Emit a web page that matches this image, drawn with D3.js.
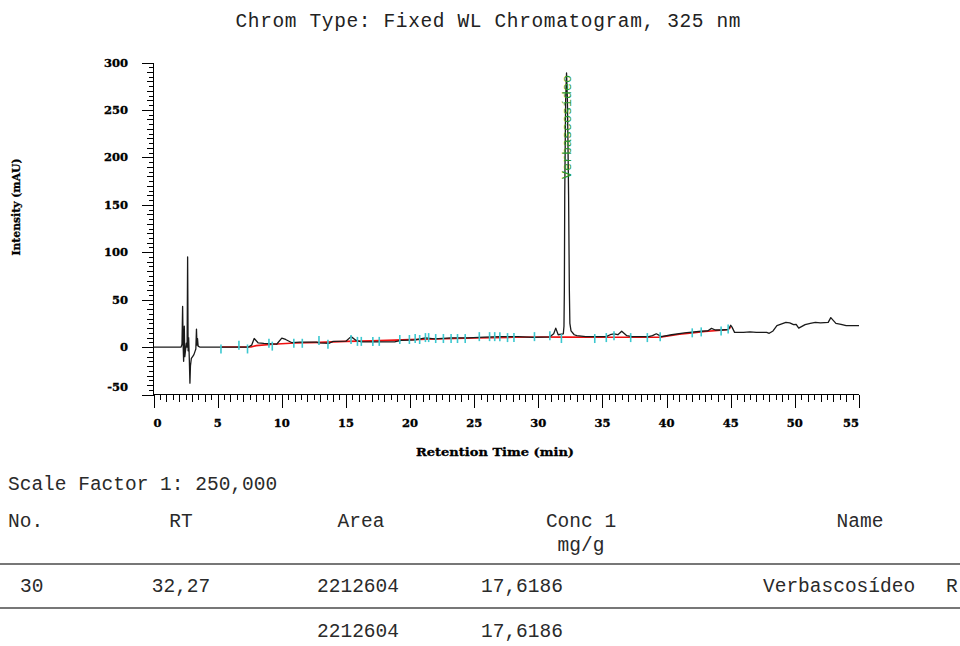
<!DOCTYPE html>
<html>
<head>
<meta charset="utf-8">
<script src="https://cdn.jsdelivr.net/npm/d3@7"></script>
<style>
  html, body { margin: 0; padding: 0; background: #fff; }
  svg { display: block; }
</style>
</head>
<body>
<svg id="chart" width="960" height="646"></svg>
<script>
// ---------------- DATA ----------------
const titleText = "Chrom Type: Fixed WL Chromatogram, 325 nm";
const yAxisTitle = "Intensity (mAU)";
const xAxisTitle = "Retention Time (min)";
const xTicks = [0, 5, 10, 15, 20, 25, 30, 35, 40, 45, 50, 55];
const yTicks = [-50, 0, 50, 100, 150, 200, 250, 300];

// detector trace (min, mAU)
const traceTime = [0, 2.15, 2.22, 2.27, 2.31, 2.35, 2.4, 2.44, 2.5, 2.56, 2.62, 2.66, 2.7, 2.74, 2.79, 2.84, 2.88, 2.95, 3.05, 3.15, 3.25, 3.3, 3.35, 3.39, 3.43, 3.48, 3.6,
  7.4, 7.65, 7.85, 8.15, 8.6, 9.6, 10.0, 10.3, 10.8, 11.4, 12.7, 12.9, 13.7, 14, 15, 15.4, 15.8, 16.2, 18.8, 19.3, 20.4, 21.2, 21.9, 23.2, 24.5, 25.8, 27.1, 28.4, 29.6, 30.9,
  31.2, 31.36, 31.55, 31.95, 32.0, 32.03, 32.06, 32.13, 32.2, 32.27, 32.36, 32.42, 32.46, 32.55, 32.8, 33.0, 33.7, 35.3, 35.6, 35.9, 36.2, 36.5, 36.9, 37.3, 38.6, 38.9, 39.2, 39.6,
  40.4, 41.4, 42.7, 43.2, 43.5, 43.8, 44.3, 44.8, 45.0, 45.1, 45.3, 46, 46.5, 47, 47.8, 48.0, 48.3, 48.6, 49.3, 49.6, 49.9, 50.1, 50.3, 50.8, 51.2, 51.6, 52.0, 52.6, 52.8, 53.2, 53.6, 54, 55];
const traceValue = [0, 0, 3, 43, 2, -15, 22, -10, -3, 4, 0, 95, -4, 10, -12, -38, -20, -12, -10, -8, -4, -2, 19, 2, 9, 1, 0,
  0, 2, 9, 4.5, 3.8, 3, 9.5, 8, 4.6, 5.3, 5.3, 4.5, 4, 6, 6.2, 11, 7, 5.5, 5.5, 7, 7.6, 9.7, 8.7, 9.7, 9.7, 10.5, 11, 11, 10.3, 10.8,
  14, 20, 13, 14, 22, 60, 160, 260, 289, 260, 160, 60, 25, 17, 13, 12, 11, 11, 13, 14, 13, 16.7, 12, 11, 11, 12, 14, 11,
  13, 15, 16.7, 17, 19.7, 18, 18, 18.5, 23, 21, 15.5, 15.5, 16, 15.5, 15.5, 14.5, 17, 22.6, 26, 25.5, 23.7, 24, 20, 23.7, 25, 26, 25.5, 26, 31, 25, 24, 22.6, 22.6];

// integration baseline (red)
const baseTime = [5.3, 7.6, 8.0, 9.3, 11, 13, 15, 17, 20, 22, 25, 28, 30, 32, 35, 39.5, 40, 41, 42, 43, 44, 44.8, 45];
const baseValue = [0, 0, 1.5, 3, 4.3, 5, 6, 6.5, 7.8, 8.5, 9.5, 10.3, 10.6, 10.5, 10.3, 10.5, 11.5, 13.5, 15, 16.5, 17.5, 18.5, 21];

// peak start/stop marks (cyan)
const markTime = [5.26, 6.66, 7.33, 9.0, 9.26, 10.94, 11.6, 12.9, 13.6, 15.4, 15.9, 16.2, 17.1, 17.6, 19.2, 19.95, 20.4, 20.75, 21.2, 21.45, 22.0, 22.6, 23.2, 23.7, 24.3, 25.4, 26.2, 26.6, 27.0, 27.6, 28.1, 29.7, 30.9, 31.8, 34.4, 35.3, 35.9, 37.2, 38.5, 39.5, 42.0, 42.7, 44.25, 44.8];
const markValue = [-2, 2, -2, 4, 1, 4, 4, 7, 3, 8, 6, 6, 6, 6, 8, 8, 9, 8, 10, 10, 9, 9, 9, 9, 9, 11, 11, 11, 11, 10, 10, 11, 12, 9, 9, 10, 12, 10, 10, 11, 15, 16, 17, 19];

// identified peak
const peakName = "Verbascosídeo";
const peakTop = 289;

// report table
const scaleFactorText = "Scale Factor 1: 250,000";
const tableHeader = ["No.", "RT", "Area", "Conc 1", "Name"];
const tableUnits = ["", "", "", "mg/g", ""];
const tableRow = ["30", "32,27", "2212604", "17,6186", "Verbascosídeo"];
const tableFlag = "R";
const tableTotal = ["", "", "2212604", "17,6186", ""];

// ---------------- DRAWING ----------------
const svg = d3.select("#chart");
svg.append("rect").attr("width", 960).attr("height", 646).attr("fill", "#fff");

const x = d3.scaleLinear().domain([0, 55]).range([153.5, 859]);
const y = d3.scaleLinear().domain([-50, 300]).range([394.5, 62.5]);

const tickFont = "'DejaVu Serif', serif";
const monoFont = "'Liberation Mono', 'Courier New', monospace";

// title
svg.append("text").attr("x", 488).attr("y", 27).attr("text-anchor", "middle")
  .attr("font-family", monoFont).attr("font-size", 19.5).attr("fill", "#222")
  .attr("textLength", 505).attr("lengthAdjust", "spacing")
  .text(titleText);

// axes lines
const axisG = svg.append("g").attr("stroke", "#000").attr("stroke-width", 1.3).attr("shape-rendering", "crispEdges");
axisG.append("line").attr("x1", x(0)).attr("x2", x(0)).attr("y1", y(-50)).attr("y2", y(300));
axisG.append("line").attr("x1", x(0)).attr("x2", x(55)).attr("y1", y(-50)).attr("y2", y(-50));

// x ticks (0.5 min minor)
const xMinor = d3.range(0, 55.001, 0.5);
axisG.selectAll(".xt").data(xMinor).enter().append("line")
  .attr("x1", d => Math.round(x(d)) + 0.5).attr("x2", d => Math.round(x(d)) + 0.5)
  .attr("y1", y(-50))
  .attr("y2", d => y(-50) + (Math.abs(d % 5) < 1e-6 ? 13 : (Math.abs(d % 1) < 1e-6 ? 7 : 5)));

// y ticks (5 mAU minor)
const yMinor = d3.range(-50, 300.001, 5);
axisG.selectAll(".yt").data(yMinor).enter().append("line")
  .attr("y1", d => Math.round(y(d)) + 0.5).attr("y2", d => Math.round(y(d)) + 0.5)
  .attr("x1", x(0))
  .attr("x2", d => x(0) - (Math.abs(d % 50) < 1e-6 ? 12 : (Math.abs(d % 10) < 1e-6 ? 7 : 5)));

// x tick labels
svg.selectAll(".xl").data(xTicks).enter().append("text")
  .attr("x", d => x(d))
  .attr("text-anchor", d => d === 0 ? "start" : (d === 55 ? "end" : "middle"))
  .attr("y", 427)
  .attr("font-family", tickFont).attr("font-weight", "bold").attr("font-size", 11.5)
  .attr("fill", "#000").attr("stroke", "#000").attr("stroke-width", 0.35)
  .text(d => d);

// y tick labels
svg.selectAll(".yl").data(yTicks).enter().append("text")
  .attr("x", 128).attr("text-anchor", "end")
  .attr("y", d => d === -50 ? y(d) - 8 : y(d))
  .attr("dy", "0.35em")
  .attr("font-family", tickFont).attr("font-weight", "bold").attr("font-size", 11.5)
  .attr("fill", "#000").attr("stroke", "#000").attr("stroke-width", 0.35)
  .text(d => d);

// axis titles
svg.append("text").attr("transform", "translate(20,207) rotate(-90)").attr("text-anchor", "middle")
  .attr("font-family", tickFont).attr("font-weight", "bold").attr("font-size", 11)
  .attr("stroke", "#000").attr("stroke-width", 0.3)
  .attr("textLength", 97).attr("lengthAdjust", "spacingAndGlyphs")
  .text(yAxisTitle);
svg.append("text").attr("x", 495).attr("y", 456).attr("text-anchor", "middle")
  .attr("font-family", tickFont).attr("font-weight", "bold").attr("font-size", 11)
  .attr("stroke", "#000").attr("stroke-width", 0.3)
  .attr("textLength", 158).attr("lengthAdjust", "spacingAndGlyphs")
  .text(xAxisTitle);

// baseline (red)
const baseData = baseTime.map((t, i) => [t, baseValue[i]]);
svg.append("path").datum(baseData)
  .attr("d", d3.line().x(d => x(d[0])).y(d => y(d[1])))
  .attr("fill", "none").attr("stroke", "#f01010").attr("stroke-width", 1.6);

// trace (black)
const traceData = traceTime.map((t, i) => [t, traceValue[i]]);
svg.append("path").datum(traceData)
  .attr("d", d3.line().x(d => x(d[0])).y(d => y(d[1])))
  .attr("fill", "none").attr("stroke", "#1a1a1a").attr("stroke-width", 1.3).attr("stroke-linejoin", "round");

// cyan marks
svg.selectAll(".mk").data(markTime.map((t, i) => [t, markValue[i]])).enter().append("line")
  .attr("x1", d => x(d[0])).attr("x2", d => x(d[0]))
  .attr("y1", d => y(d[1]) - 4.5).attr("y2", d => y(d[1]) + 4.5)
  .attr("stroke", "#3cc8d0").attr("stroke-width", 1.6);

// peak label
const peakIdx = traceValue.indexOf(peakTop);
svg.append("text")
  .attr("transform", `translate(${x(traceTime[peakIdx]) + 4},179) rotate(-90)`)
  .attr("font-family", monoFont).attr("font-size", 12.5).attr("fill", "#2a9a2a")
  .attr("textLength", 104).attr("lengthAdjust", "spacingAndGlyphs")
  .text(peakName);

// ---------------- TABLE ----------------
const tf = { family: monoFont, size: 19.5, color: "#2a2a2a" };
function txt(s, xx, yy, anchor) {
  svg.append("text").attr("x", xx).attr("y", yy).attr("text-anchor", anchor || "start")
    .attr("font-family", tf.family).attr("font-size", tf.size).attr("fill", tf.color).text(s);
}
txt(scaleFactorText, 8, 490);
const colX = [8, 181, 361, 581, 860];
const colAnchor = ["start", "middle", "middle", "middle", "middle"];
tableHeader.forEach((h, i) => txt(h, colX[i], 527, colAnchor[i]));
tableUnits.forEach((h, i) => { if (h) txt(h, colX[i], 551, colAnchor[i]); });
svg.append("line").attr("x1", 0).attr("x2", 960).attr("y1", 564).attr("y2", 564).attr("stroke", "#777").attr("stroke-width", 2);
const rowX = [20, 181, 358, 481, 763];
const rowAnchor = ["start", "middle", "middle", "start", "start"];
tableRow.forEach((h, i) => txt(h, rowX[i], 592, rowAnchor[i]));
txt(tableFlag, 946, 592);
svg.append("line").attr("x1", 0).attr("x2", 960).attr("y1", 608).attr("y2", 608).attr("stroke", "#777").attr("stroke-width", 2);
tableTotal.forEach((h, i) => { if (h) txt(h, rowX[i], 637, rowAnchor[i]); });
</script>
</body>
</html>
